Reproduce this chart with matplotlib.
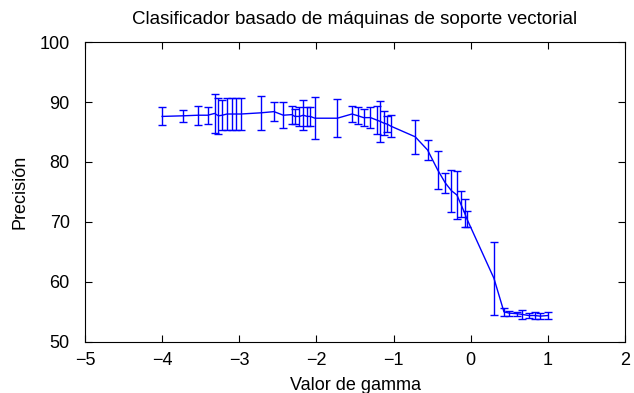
import numpy as np
import matplotlib.pyplot as plt

plt.rcParams['font.family'] = ['Liberation Sans', 'DejaVu Sans']

# log10(gamma), mean precision, std
gamma = [-4.00, -3.73, -3.53, -3.41, -3.32, -3.27, -3.22, -3.16, -3.10, -3.04,
         -2.98, -2.72, -2.55, -2.43, -2.32, -2.28, -2.22, -2.17, -2.12, -2.08,
         -2.02, -1.73, -1.54, -1.46, -1.39, -1.30, -1.22, -1.18, -1.13, -1.08,
         -1.04, -0.72, -0.56, -0.43, -0.33, -0.25, -0.18, -0.13, -0.08, -0.05,
         0.30, 0.43, 0.50, 0.60, 0.66, 0.75, 0.83, 0.90, 1.00]
precision = [87.6, 87.7, 87.8, 87.8, 88.1, 87.7, 87.8, 88.0, 88.0, 88.0,
             88.0, 88.2, 88.4, 87.8, 87.9, 87.6, 87.6, 87.8, 87.6, 87.6,
             87.3, 87.3, 88.0, 87.7, 87.4, 87.4, 87.0, 86.8, 86.5, 86.3,
             86.0, 84.2, 82.0, 78.7, 76.5, 75.2, 74.5, 73.0, 71.5, 70.5,
             60.6, 55.0, 54.8, 54.7, 54.6, 54.4, 54.4, 54.3, 54.4]
std = [1.5, 1.0, 1.6, 1.4, 3.2, 3.0, 2.5, 2.6, 2.6, 2.6,
       2.6, 2.8, 1.6, 2.2, 1.5, 1.2, 1.6, 2.5, 1.6, 1.6,
       3.5, 3.2, 1.3, 1.4, 1.4, 1.7, 2.3, 3.4, 2.0, 1.3,
       1.8, 2.8, 1.7, 3.2, 1.7, 3.5, 4.0, 2.2, 2.4, 1.3,
       6.1, 0.7, 0.4, 0.3, 0.8, 0.4, 0.6, 0.5, 0.6]

fig = plt.figure(figsize=(6.34, 3.93), dpi=100)
ax = fig.add_axes([0.134, 0.130, 0.852, 0.763])

ax.errorbar(gamma, precision, yerr=std, color='#0000ff', linewidth=1,
            elinewidth=1, capsize=3, capthick=1)

ax.set_xlim(-5, 2)
ax.set_ylim(50, 100)
ax.set_xticks(np.arange(-5, 3, 1))
ax.set_yticks(np.arange(50, 101, 10))
ax.tick_params(direction='in', top=True, right=True, labelsize=13, length=5)
ax.tick_params(axis='y', pad=11)
ax.tick_params(axis='x', pad=7)

ax.set_title('Clasificador basado de máquinas de soporte vectorial', fontsize=13.5, pad=13)
ax.set_xlabel('Valor de gamma', fontsize=13, labelpad=6)
ax.set_ylabel('Precisión', fontsize=13, labelpad=8)

fig.savefig('out.png', dpi=100)
